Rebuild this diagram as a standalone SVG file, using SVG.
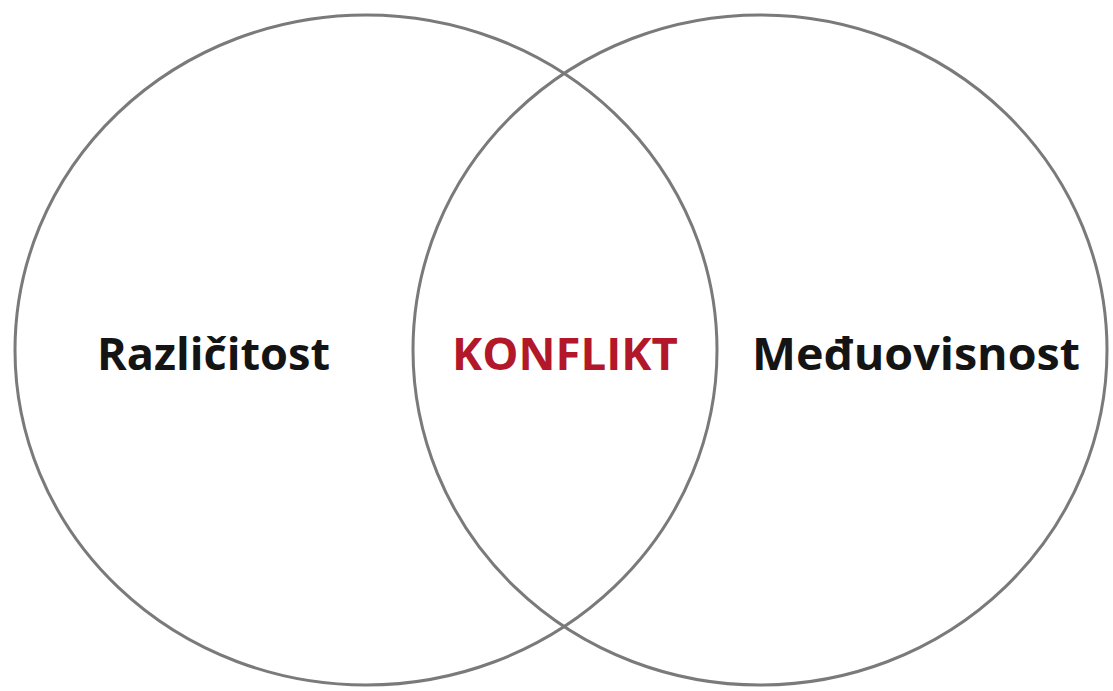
<svg xmlns="http://www.w3.org/2000/svg" width="1113" height="691" viewBox="0 0 1113 691">
<style>
.c{fill:none;stroke:#7a7a7a;stroke-width:3}
.t{font-family:"Open Sans","Liberation Sans",sans-serif;font-weight:bold;font-size:44px;fill:#141414}
.r{fill:#b3172a}
</style>
<rect width="1113" height="691" fill="#fff"/>
<g id="connectors"></g>
<g id="left"><ellipse class="c" cx="366" cy="350" rx="351" ry="335"/><text class="t" x="97" y="370" textLength="233" lengthAdjust="spacingAndGlyphs">Različitost</text></g>
<g id="right"><ellipse class="c" cx="760" cy="350" rx="347" ry="335"/><text class="t" x="752" y="370" textLength="328" lengthAdjust="spacingAndGlyphs">Međuovisnost</text></g>
<g id="center"><text class="t r" x="452" y="370" textLength="226" lengthAdjust="spacingAndGlyphs">KONFLIKT</text></g>
</svg>
